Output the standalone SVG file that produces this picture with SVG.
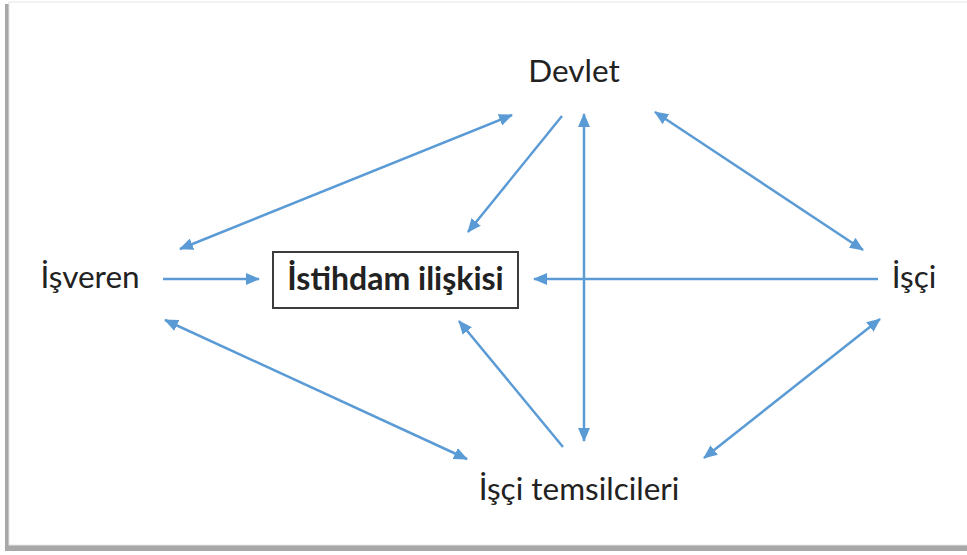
<svg xmlns="http://www.w3.org/2000/svg" width="967" height="555" viewBox="0 0 967 555">
<style>
.lbl{font-family:Lato,"Open Sans","Liberation Sans",sans-serif;font-size:31.5px;fill:#222222}
.bold{font-weight:bold;font-size:32px}
.c{stroke:#5b9bd5;stroke-width:2.5;fill:none}
</style>
<defs>
<marker id="ah" markerWidth="14" markerHeight="12" refX="13" refY="6" orient="auto-start-reverse" markerUnits="userSpaceOnUse">
<path d="M0,0 L14,6 L0,12 Z" fill="#5b9bd5"/>
</marker>
</defs>
<rect x="0" y="0" width="967" height="555" fill="#ffffff"/>
<rect x="5" y="4" width="970" height="547" fill="#a8a8a8"/>
<rect x="9" y="2" width="966" height="543" fill="#ffffff" stroke="#e6e6e6" stroke-width="1"/>
<g id="connectors">
<line class="c" x1="180" y1="249" x2="512" y2="115" marker-start="url(#ah)" marker-end="url(#ah)"/>
<line class="c" x1="562" y1="116" x2="468" y2="232" marker-end="url(#ah)"/>
<line class="c" x1="584" y1="114" x2="584" y2="441" marker-start="url(#ah)" marker-end="url(#ah)"/>
<line class="c" x1="655" y1="112" x2="863" y2="250" marker-start="url(#ah)" marker-end="url(#ah)"/>
<line class="c" x1="163" y1="279" x2="259" y2="279" marker-end="url(#ah)"/>
<line class="c" x1="878" y1="279" x2="534" y2="279" marker-end="url(#ah)"/>
<line class="c" x1="165" y1="320" x2="467" y2="459" marker-start="url(#ah)" marker-end="url(#ah)"/>
<line class="c" x1="563" y1="447" x2="459" y2="321" marker-end="url(#ah)"/>
<line class="c" x1="880" y1="319" x2="704" y2="458" marker-start="url(#ah)" marker-end="url(#ah)"/>
</g>
<g id="devlet"><text class="lbl" x="574" y="82" text-anchor="middle">Devlet</text></g>
<g id="isveren"><text class="lbl" x="90" y="288" text-anchor="middle">İşveren</text></g>
<g id="istihdam">
<rect x="273" y="252" width="245" height="56" fill="#ffffff" stroke="#3c3c3c" stroke-width="2"/>
<text class="lbl bold" x="395.5" y="290" text-anchor="middle">İstihdam ilişkisi</text>
</g>
<g id="isci"><text class="lbl" x="914" y="288" text-anchor="middle">İşçi</text></g>
<g id="temsilciler"><text class="lbl" x="579" y="500" text-anchor="middle">İşçi temsilcileri</text></g>
</svg>
